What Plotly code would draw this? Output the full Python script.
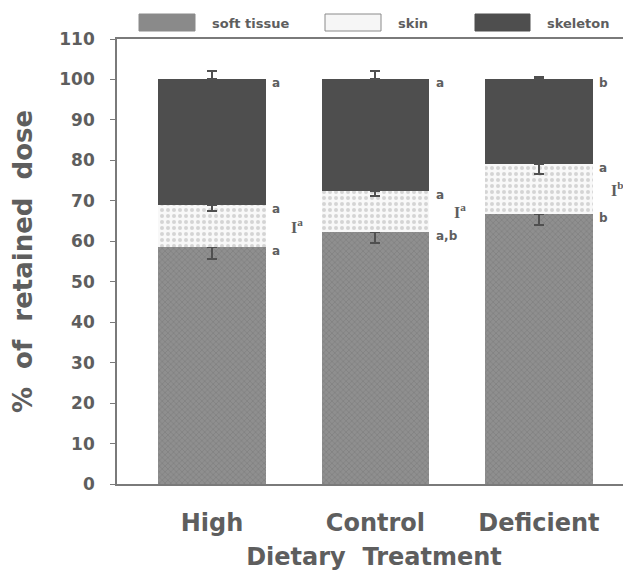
import plotly.graph_objects as go

categories = ["High", "Control", "Deficient"]
soft_tissue = [58.5, 62.4, 66.7]
skin = [10.5, 10.0, 12.3]
skeleton = [31.0, 27.6, 21.0]
soft_err = [2.8, 2.8, 2.6]
skin_err = [1.5, 1.3, 2.4]
skel_err = [2.0, 2.0, 0.6]
soft_letters = ["a", "a,b", "b"]
skin_letters = ["a", "a", "a"]
skel_letters = ["a", "a", "b"]
combined_letters = ["a", "a", "b"]
y_ticks = list(range(0, 111, 10))

TXT = "#5e5e5e"
FONT = "DejaVu Sans"
OFF = 8  # default page body margin
W, H = 631 - OFF, 573 - OFF
ML, MR, MT, MB = 117 - OFF, 0, 39 - OFF, 89
BAR_W = 0.66

xs = list(range(len(categories)))

fig = go.Figure()
fig.add_trace(go.Bar(
    x=xs, y=soft_tissue, name="soft tissue", width=BAR_W,
    marker=dict(color="#8a8a8a", line=dict(width=0),
                pattern=dict(shape="x", fgcolor="#6a6a6a", bgcolor="#8f8f8f", size=4, solidity=0.3)),
    error_y=dict(type="data", symmetric=False, array=[0, 0, 0], arrayminus=soft_err,
                 color="#505050", thickness=2, width=5),
))
fig.add_trace(go.Bar(
    x=xs, y=skin, name="skin", width=BAR_W,
    marker=dict(color="#f6f6f6", line=dict(width=0),
                pattern=dict(shape=".", fgcolor="#b0b0b0", bgcolor="#f8f8f8", size=6, solidity=0.35)),
    error_y=dict(type="data", symmetric=False, array=[0, 0, 0], arrayminus=skin_err,
                 color="#505050", thickness=2, width=5),
))
fig.add_trace(go.Bar(
    x=xs, y=skeleton, name="skeleton", width=BAR_W,
    marker=dict(color="#4e4e4e", line=dict(width=0)),
    error_y=dict(type="data", symmetric=False, array=skel_err, arrayminus=[0, 0, 0],
                 color="#505050", thickness=2, width=5),
))

# significance letters
ann = []
for i in xs:
    soft_top = soft_tissue[i]
    skin_top = soft_tissue[i] + skin[i]
    skel_top = skin_top + skeleton[i]
    for val, lab in ((soft_top, soft_letters[i]), (skin_top, skin_letters[i]), (skel_top, skel_letters[i])):
        ann.append(dict(x=i + BAR_W / 2 + 0.025, y=val, xref="x", yref="y", text=lab,
                        showarrow=False, xanchor="left", yanchor="middle", yshift=-4,
                        font=dict(family=FONT, size=12, color=TXT, weight="bold")))
    ann.append(dict(x=i + 0.47, y=(soft_top + skin_top) / 2, xref="x", yref="y",
                    text="I<sup>" + combined_letters[i] + "</sup>",
                    xshift=-7 if i == xs[-1] else 0,
                    showarrow=False, xanchor="left", yanchor="middle",
                    font=dict(family="Liberation Serif", size=16, color=TXT, weight="bold")))

# manual legend (positions given in page pixels)
pw = W - ML - MR
ph = H - MT - MB


def px_x(p):
    return (p - OFF - ML) / pw


def px_y(p):
    return (H - MB - (p - OFF)) / ph


legend_items = [
    ("soft tissue", 139, 195, "#8a8a8a", "#8a8a8a"),
    ("skin", 325, 381, "#f6f6f6", "#8a8a8a"),
    ("skeleton", 475, 530, "#4e4e4e", "#4e4e4e"),
]
shapes = []
for name, x0, x1, fill, edge in legend_items:
    shapes.append(dict(type="rect", xref="paper", yref="paper",
                       x0=px_x(x0), x1=px_x(x1), y0=px_y(31), y1=px_y(14),
                       fillcolor=fill, line=dict(color=edge, width=1)))
    ann.append(dict(x=px_x(x1 + 15), y=px_y(23), xref="paper", yref="paper", text=name,
                    showarrow=False, xanchor="left", yanchor="middle",
                    font=dict(family=FONT, size=13, color=TXT, weight="bold")))

fig.update_layout(
    width=W, height=H,
    margin=dict(l=ML, r=MR, t=MT, b=MB, autoexpand=False),
    barmode="stack",
    paper_bgcolor="white", plot_bgcolor="white",
    showlegend=False,
    annotations=ann, shapes=shapes,
    xaxis=dict(
        range=[-0.581, 2.563], tickmode="array", tickvals=xs, ticktext=categories,
        showline=True, linecolor="#7a7a7a", linewidth=2, mirror=True,
        ticks="outside", ticklen=16, tickcolor="rgba(0,0,0,0)",
        showgrid=False, zeroline=False, automargin=False,
        tickfont=dict(family=FONT, size=24, color=TXT, weight="bold"),
        title=dict(text="Dietary  Treatment", standoff=12,
                   font=dict(family=FONT, size=24, color=TXT, weight="bold")),
    ),
    yaxis=dict(
        range=[0, 110], tickmode="array", tickvals=y_ticks,
        ticktext=[f"{v}\u00a0\u00a0" for v in y_ticks],
        showline=True, linecolor="#7a7a7a", linewidth=2,
        ticks="outside", ticklen=5, tickcolor="#7a7a7a", tickwidth=1,
        showgrid=False, zeroline=False, automargin=False,
        tickfont=dict(family=FONT, size=17, color=TXT, weight="bold"),
        title=dict(text="%  of  retained  dose", standoff=24,
                   font=dict(family=FONT, size=26, color=TXT, weight="bold")),
    ),
)

fig.write_html("out.html")
